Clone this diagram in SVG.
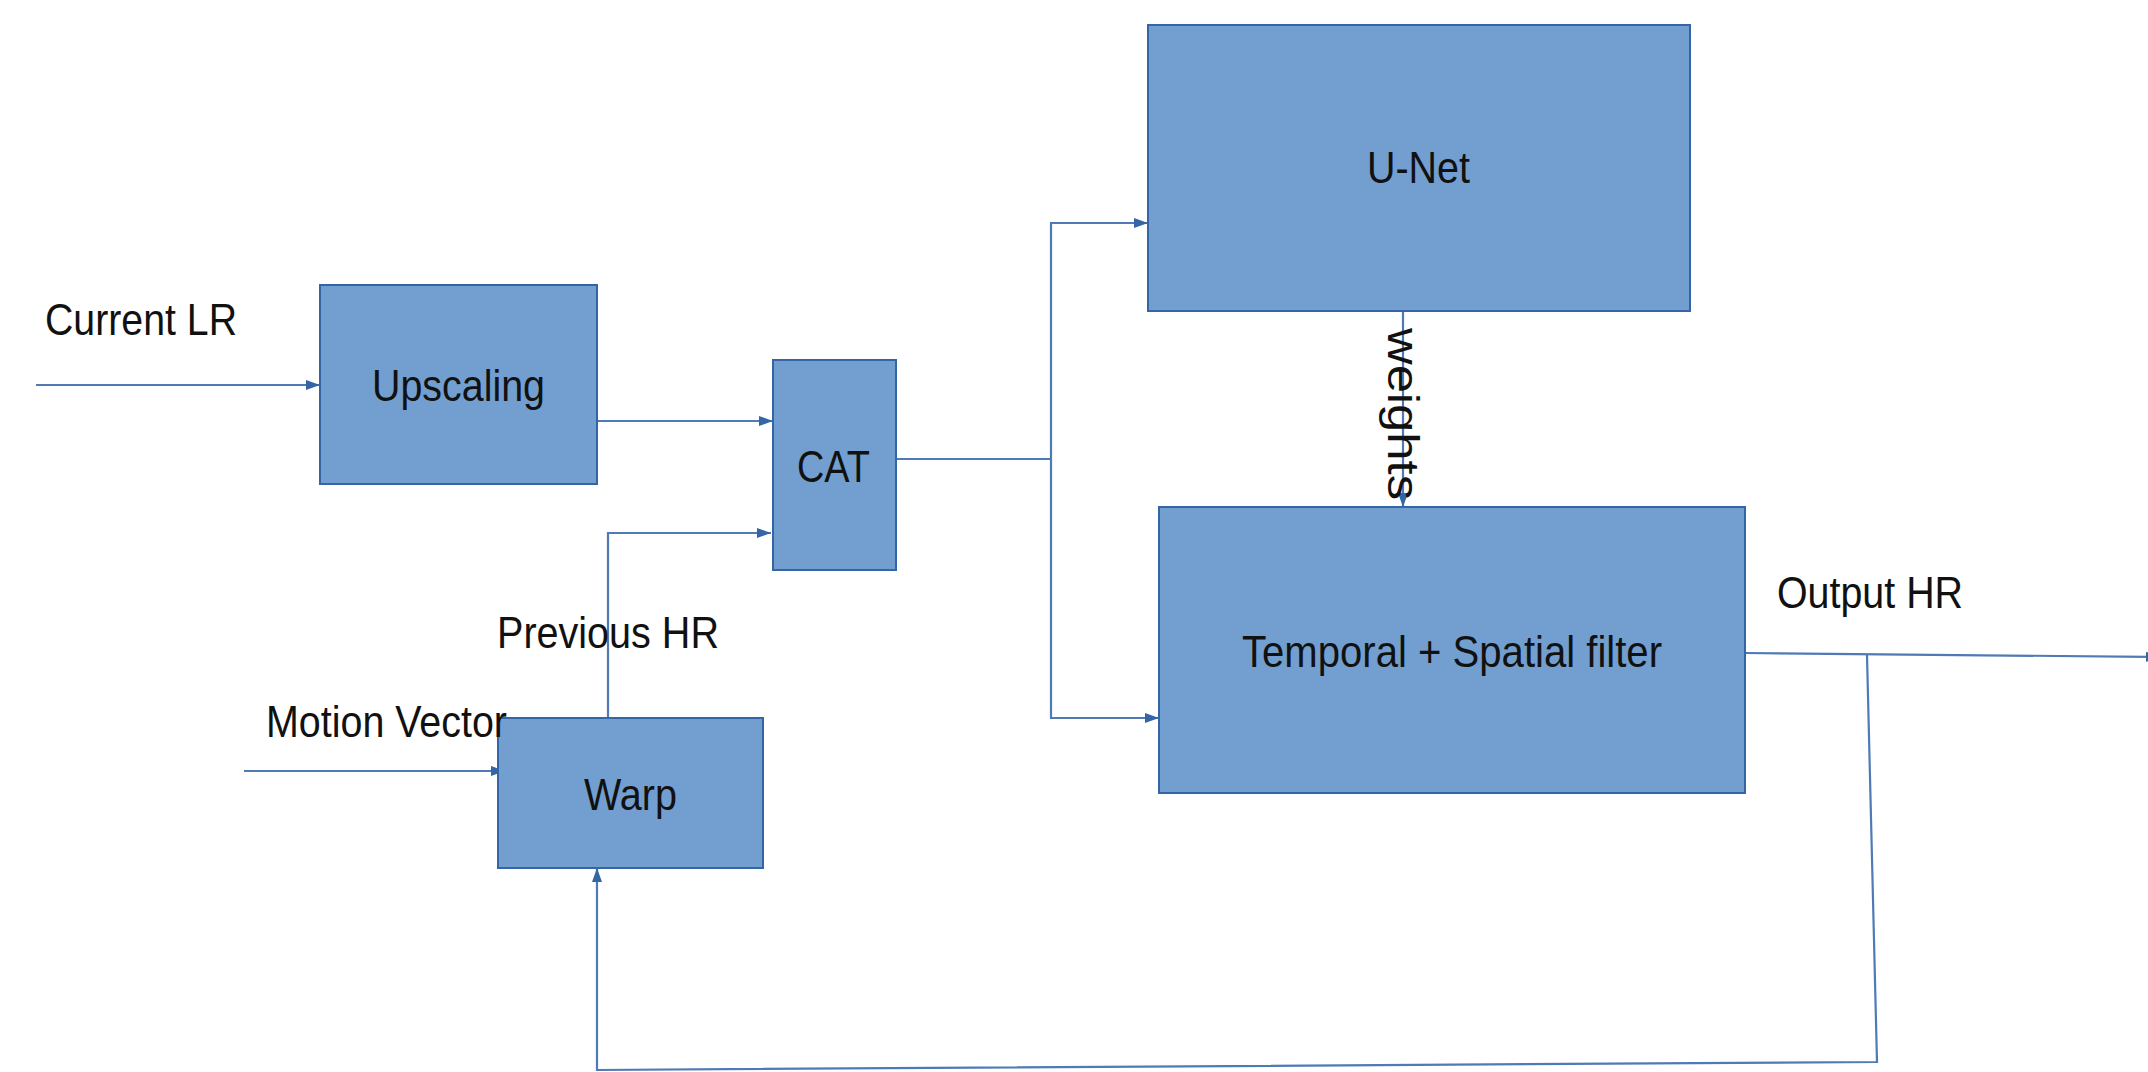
<svg xmlns="http://www.w3.org/2000/svg" width="2148" height="1072" viewBox="0 0 2148 1072">
<style>
.box{fill:#729fcf;stroke:#3465a4;stroke-width:2}
.lbl{font-family:"Liberation Sans",Arial,sans-serif;font-size:45px;fill:#111}
.con{fill:none;stroke:#4f7ab5;stroke-width:2.2}
</style>
<defs>
<marker id="arr" viewBox="0 0 14 10" refX="14" refY="5" markerWidth="14" markerHeight="10" markerUnits="userSpaceOnUse" orient="auto">
<path d="M0,0 L14,5 L0,10 z" fill="#3465a4"/>
</marker>
</defs>
<rect width="2148" height="1072" fill="#fff"/>
<g id="connectors">
<line class="con" x1="36" y1="385" x2="320" y2="385" marker-end="url(#arr)"/>
<line class="con" x1="597" y1="421" x2="773" y2="421" marker-end="url(#arr)"/>
<polyline class="con" points="608,718 608,533 771,533" marker-end="url(#arr)"/>
<line class="con" x1="244" y1="771" x2="505" y2="771" marker-end="url(#arr)"/>
<polyline class="con" points="896,459 1051,459"/>
<polyline class="con" points="1051,459 1051,223 1148,223" marker-end="url(#arr)"/>
<polyline class="con" points="1051,459 1051,718 1159,718" marker-end="url(#arr)"/>
<line class="con" x1="1403" y1="311" x2="1403" y2="507" marker-end="url(#arr)"/>
<line class="con" x1="1745" y1="653" x2="2160" y2="657" marker-end="url(#arr)"/>
<polyline class="con" points="1867,655 1877,1062 597,1070 597,868" marker-end="url(#arr)"/>
</g>
<g id="upscaling">
<rect class="box" x="320" y="285" width="277" height="199"/>
<text class="lbl" x="372" y="401" textLength="173" lengthAdjust="spacingAndGlyphs">Upscaling</text>
</g>
<g id="cat">
<rect class="box" x="773" y="360" width="123" height="210"/>
<text class="lbl" x="797" y="482" textLength="73" lengthAdjust="spacingAndGlyphs">CAT</text>
</g>
<g id="unet">
<rect class="box" x="1148" y="25" width="542" height="286"/>
<text class="lbl" x="1367" y="183" textLength="103" lengthAdjust="spacingAndGlyphs">U-Net</text>
</g>
<g id="filter">
<rect class="box" x="1159" y="507" width="586" height="286"/>
<text class="lbl" x="1242" y="667" textLength="420" lengthAdjust="spacingAndGlyphs">Temporal + Spatial filter</text>
</g>
<g id="warp">
<rect class="box" x="498" y="718" width="265" height="150"/>
<text class="lbl" x="584" y="810" textLength="93" lengthAdjust="spacingAndGlyphs">Warp</text>
</g>
<g id="labels">
<text class="lbl" x="45" y="335" textLength="192" lengthAdjust="spacingAndGlyphs">Current LR</text>
<text class="lbl" x="497" y="648" textLength="222" lengthAdjust="spacingAndGlyphs">Previous HR</text>
<text class="lbl" x="266" y="737" textLength="241" lengthAdjust="spacingAndGlyphs">Motion Vector</text>
<text class="lbl" x="1777" y="608" textLength="186" lengthAdjust="spacingAndGlyphs">Output HR</text>
<text class="lbl" transform="translate(1388,328) rotate(90)" x="0" y="0" textLength="172" lengthAdjust="spacingAndGlyphs">weights</text>
</g>
</svg>
